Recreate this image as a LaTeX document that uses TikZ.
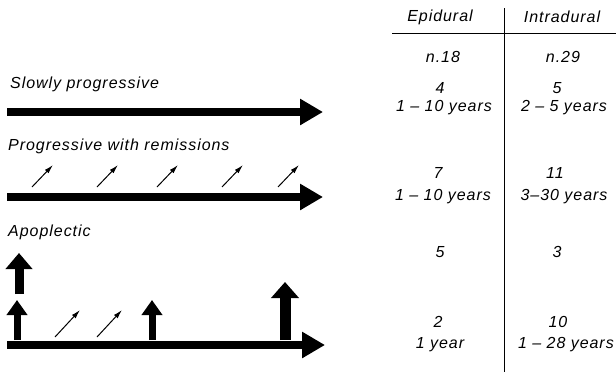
\documentclass[tikz,border=0pt]{standalone}
\usepackage{fontspec}
\newfontfamily\handfont{Liberation Sans}[LetterSpace=6,Ligatures=TeX]
\usetikzlibrary{arrows.meta}
\tikzset{
txt/.style={
font=\handfont\itshape\fontsize{16}{18}\selectfont,
inner sep=0pt
},
title/.style={
txt,
anchor=base west
},
course/.style={
line width=8pt,
-{Triangle[length=23pt,width=25pt]}
},
remit/.style={
line width=1pt,
-{Latex[length=9pt,width=5pt]}
},
attack/.style={
line width=7pt,
-{Triangle[length=15pt,width=20pt]}
},
bigattack/.style={
line width=11pt,
-{Triangle[length=16pt,width=27pt]}
},
rule/.style={
line width=0.9pt
}
}

\begin{document}
\begin{tikzpicture}[x=1pt,y=-1pt]
\useasboundingbox (0,0) rectangle (616,372);

% table head
\node[txt](hepi) at (440,17){Epidural};
\node[txt](hint) at (562,17){Intradural};
\coordinate (hl) at (392,33);
\coordinate (hr) at (616,33);
\coordinate (vt) at (504,8);
\coordinate (vb) at (504,372);
\draw[rule](hl)--(hr);
\draw[rule](vt)--(vb);

\node[txt](nepi) at (443,57){n.18};
\node[txt](nint) at (563,57){n.29};

% slowly progressive
\node[title](t1) at (10,88){Slowly progressive};
\coordinate (s1) at (7,112);
\coordinate (e1) at (323,112);
\draw[course](s1)--(e1);
\node[txt](a1) at (440,88){4};
\node[txt](a2) at (444,108){1 – 10 years};
\node[txt](a3) at (557,88){5};
\node[txt](a4) at (564,108){2 – 5 years};

% progressive with remissions
\node[title](t2) at (8,150){Progressive with remissions};
\coordinate (s2) at (7,197);
\coordinate (e2) at (323,197);
\draw[course](s2)--(e2);
\foreach \x [count=\i] in {32,97,157,222,278}{
\coordinate (r\i a) at (\x,187);
\coordinate (r\i b) at (\x+21,165);
\draw[remit](r\i a)--(r\i b);
}
\node[txt](b1) at (438,173){7};
\node[txt](b2) at (443,197){1 – 10 years};
\node[txt](b3) at (555,173){11};
\node[txt](b4) at (564,197){3–30 years};

% apoplectic
\node[title](t3) at (8,236){Apoplectic};
\coordinate (u0a) at (19,294);
\coordinate (u0b) at (19,253);
\draw[attack,line width=9pt,-{Triangle[length=16pt,width=26pt]}](u0a)--(u0b);
\coordinate (s3) at (7,345);
\coordinate (e3) at (325,345);
\draw[course](s3)--(e3);
\coordinate (u1a) at (17,340);
\coordinate (u1b) at (17,300);
\draw[attack](u1a)--(u1b);
\coordinate (d1a) at (55,337);
\coordinate (d1b) at (80,310);
\draw[remit](d1a)--(d1b);
\coordinate (d2a) at (97,337);
\coordinate (d2b) at (122,310);
\draw[remit](d2a)--(d2b);
\coordinate (u2a) at (152,340);
\coordinate (u2b) at (152,300);
\draw[attack](u2a)--(u2b);
\coordinate (u3a) at (285,340);
\coordinate (u3b) at (285,282);
\draw[bigattack](u3a)--(u3b);
\node[txt](c1) at (440,252){5};
\node[txt](c2) at (557,252){3};

\node[txt](d1) at (438,322){2};
\node[txt](d2) at (440,345){1 year};
\node[txt](d3) at (558,322){10};
\node[txt,anchor=east](d4) at (614,345){1 – 28 years};
\end{tikzpicture}
\end{document}
